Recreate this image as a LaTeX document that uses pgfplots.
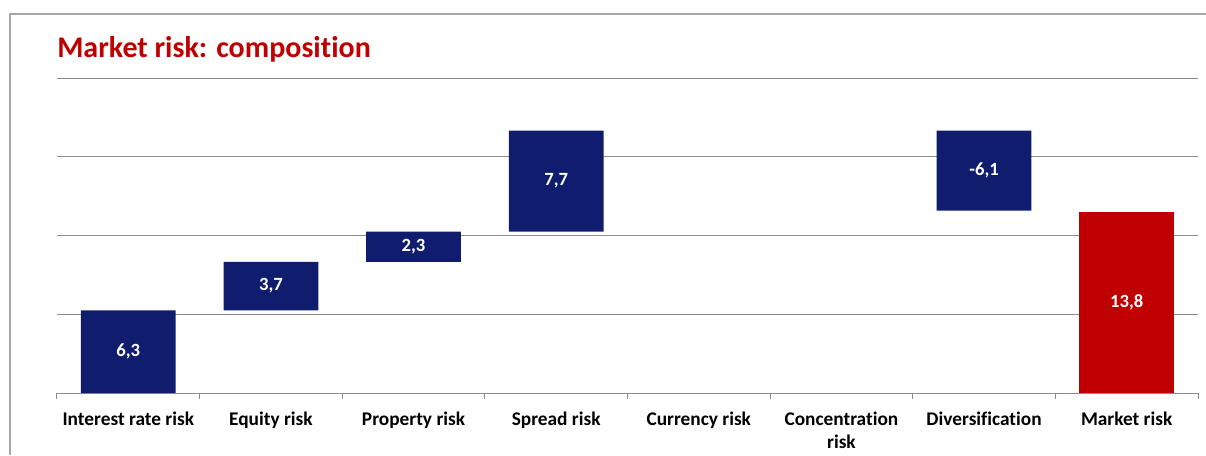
\documentclass[border=0pt]{standalone}
\usepackage{fontspec}
\setmainfont{Carlito}[Ligatures=NoCommon]
\usepackage{pgfplots}
\usepackage{pgfplotstable}
\pgfplotsset{compat=1.18}

\definecolor{navy}{HTML}{101C6E}
\definecolor{mred}{HTML}{C00000}
\definecolor{gridgray}{HTML}{8C8C8C}
\definecolor{framegray}{HTML}{A6A6A6}

% waterfall: invisible base + visible segment
\pgfplotstableread{
x base blue red
0 0    6.3 0
1 6.3  3.7 0
2 10.0 2.3 0
3 12.3 7.7 0
4 0    0   0
5 0    0   0
6 13.9 6.1 0
7 0    0   13.8
}\wf

% value labels, centred in each bar
\pgfplotstableread{
x y lab
0 3.15 6,3
1 8.15 3,7
2 11.15 2,3
3 16.15 7,7
6 16.95 -6,1
7 6.9 13,8
}\wflab

\pgfplotsset{
  wfaxis/.style={
    scale only axis,
    width=855.75pt, height=236.25pt,
    at={(42.75pt,46.5pt)}, anchor=south west,
    xmin=-0.5, xmax=7.5,
    ymin=0, ymax=24,
  }
}

\begin{document}
\begin{tikzpicture}
\path[use as bounding box] (0,0) rectangle (904.5pt,341.25pt);
\draw[framegray, line width=1.5pt] (7.5pt,0) -- (7.5pt,330.75pt) -- (904.5pt,330.75pt);
\node[anchor=base west, inner sep=0pt, text=mred, font=\bfseries\fontsize{22.5}{27}\selectfont]
  at (42.75pt,298.5pt) {Market risk: composition};

\begin{axis}[
  wfaxis,
  ybar stacked,
  bar width=0.664,
  axis lines*=left,
  y axis line style={draw=none},
  x axis line style={gridgray, line width=0.75pt, -},
  ytick={0,6,12,18,24},
  yticklabels={},
  ytick style={draw=none},
  ymajorgrids,
  grid style={gridgray, line width=0.75pt},
  xtick={0,...,7},
  xticklabels={Interest rate risk, Equity risk, Property risk, Spread risk, Currency risk, {Concentration\\risk}, Diversification, Market risk},
  xticklabel style={align=center, font=\bfseries\fontsize{14.5}{17.5}\selectfont, yshift=-10.5pt},
  major tick length=0pt,
  minor xtick={-0.5,0.5,...,7.5},
  minor tick length=4.5pt,
  xtick align=outside,
  minor tick style={gridgray, line width=0.75pt},
]
\addplot[draw=none, fill=none] table[x=x, y=base] {\wf};
\addplot[draw=none, fill=navy] table[x=x, y=blue] {\wf};
\addplot[draw=none, fill=mred] table[x=x, y=red] {\wf};
\end{axis}

\begin{axis}[
  wfaxis,
  hide axis,
]
\addplot[only marks, mark=none,
  point meta=explicit symbolic,
  nodes near coords,
  nodes near coords style={anchor=center, text=white, font=\bfseries\fontsize{14}{16}\selectfont},
] table[x=x, y=y, meta=lab] {\wflab};
\end{axis}
\end{tikzpicture}
\end{document}
